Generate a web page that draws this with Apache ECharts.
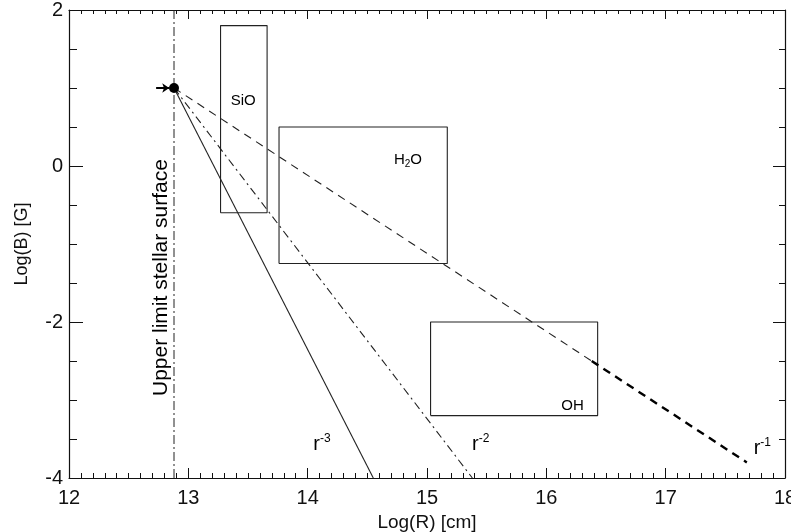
<!DOCTYPE html>
<html>
<head>
<meta charset="utf-8">
<script src="https://cdn.jsdelivr.net/npm/echarts@6/dist/echarts.min.js"></script>
<style>
  html, body { margin: 0; padding: 0; background: #fff; }
  #chart { width: 791px; height: 532px; }
</style>
</head>
<body>
<div id="chart"></div>
<script>
// Magnetic field strength versus distance from the star (log-log)
const starPoint = [12.88, 1.0];          // Log(R), Log(B) at the stellar surface limit
const surfaceX = 12.88;                  // upper limit of stellar surface
const arrowFrom = [12.73, 1.0];
const arrowTo = [12.84, 1.0];

// Power-law field profiles: start and end points
const lineR3 = [[12.88, 1.0], [14.55, -4.0]];
const lineR2 = [[12.88, 1.0], [15.38, -4.0]];
const lineR1a = [[12.88, 1.0], [16.38, -2.5]];
const lineR1b = [[16.38, -2.5], [17.68, -3.8]];

// Maser regions: [xMin, xMax, yMin, yMax]
const boxSiO = [13.27, 13.66, -0.6, 1.8];
const boxH2O = [13.76, 15.17, -1.25, 0.5];
const boxOH = [15.03, 16.43, -3.2, -2.0];

// Text labels placed in data coordinates
const regionLabels = [
  { name: 'SiO', pos: [13.46, 0.83] },
  { name: 'H2O', pos: [14.84, 0.08] },
  { name: 'OH', pos: [16.22, -3.08] }
];
const powerLabels = [
  { exp: '-3', pos: [14.12, -3.57] },
  { exp: '-2', pos: [15.45, -3.57] },
  { exp: '-1', pos: [17.81, -3.62] }
];
const surfaceLabel = { text: 'Upper limit stellar surface', pos: [12.77, -1.43] };

const xTicks = [12, 13, 14, 15, 16, 17, 18];
const yTicks = [-4, -2, 0, 2];

function boxPath(b) {
  return [[b[0], b[2]], [b[1], b[2]], [b[1], b[3]], [b[0], b[3]], [b[0], b[2]]];
}

const FONT = 'Liberation Sans';
const INK = '#000';

const chart = echarts.init(document.getElementById('chart'), null, { renderer: 'canvas' });

const lineBase = { type: 'line', symbol: 'none', silent: true, animation: false, z: 3 };

const plainText = {
  color: INK, fontFamily: FONT, textBorderWidth: 0, textShadowBlur: 0, opacity: 1
};

// invisible anchor points carrying text labels
function textSeries(data, label) {
  return {
    type: 'scatter', symbol: 'circle', symbolSize: 1, silent: true, z: 6,
    itemStyle: { color: '#fff', opacity: 1 },
    data: data,
    label: Object.assign({}, plainText, { show: true, position: 'inside' }, label),
    labelLayout: { hideOverlap: false }
  };
}

const option = {
  animation: false,
  backgroundColor: '#fff',
  grid: { left: 69, right: 6, top: 10, bottom: 54, containLabel: false, outerBoundsMode: 'none' },
  xAxis: [
    {
      type: 'value', min: xTicks[0], max: xTicks[xTicks.length - 1], interval: 1,
      position: 'bottom',
      name: 'Log(R) [cm]', nameLocation: 'middle', nameGap: 30,
      nameTextStyle: { fontFamily: FONT, fontSize: 19, color: '#111' },
      axisLine: { onZero: false, lineStyle: { color: '#111', width: 1.2 } },
      axisTick: { inside: true, length: 10, lineStyle: { color: '#111' } },
      minorTick: { show: true, splitNumber: 10, length: 5, lineStyle: { color: '#111' } },
      axisLabel: { fontFamily: FONT, fontSize: 20, color: '#111', margin: 10 },
      splitLine: { show: false }
    },
    {
      type: 'value', min: xTicks[0], max: xTicks[xTicks.length - 1], interval: 1,
      position: 'top',
      axisLine: { onZero: false, lineStyle: { color: '#111', width: 1.2 } },
      axisTick: { inside: true, length: 9, lineStyle: { color: '#111' } },
      minorTick: { show: true, splitNumber: 10, length: 4, lineStyle: { color: '#111' } },
      axisLabel: { show: false },
      splitLine: { show: false }
    }
  ],
  yAxis: [
    {
      type: 'value', min: yTicks[0], max: yTicks[yTicks.length - 1], interval: 2,
      position: 'left',
      name: 'Log(B) [G]', nameLocation: 'middle', nameGap: 38, nameRotate: 90,
      nameTextStyle: { fontFamily: FONT, fontSize: 18, color: '#111' },
      axisLine: { onZero: false, lineStyle: { color: '#111', width: 1.2 } },
      axisTick: { inside: true, length: 14, lineStyle: { color: '#111' } },
      minorTick: { show: true, splitNumber: 4, length: 8, lineStyle: { color: '#111' } },
      axisLabel: { fontFamily: FONT, fontSize: 20, color: '#111', margin: 6 },
      splitLine: { show: false }
    },
    {
      type: 'value', min: yTicks[0], max: yTicks[yTicks.length - 1], interval: 2,
      position: 'right',
      axisLine: { onZero: false, lineStyle: { color: '#111', width: 1.2 } },
      axisTick: { inside: true, length: 12, lineStyle: { color: '#111' } },
      minorTick: { show: true, splitNumber: 4, length: 6, lineStyle: { color: '#111' } },
      axisLabel: { show: false },
      splitLine: { show: false }
    }
  ],
  series: [
    // stellar surface limit
    Object.assign({}, lineBase, {
      data: [[surfaceX, yTicks[0]], [surfaceX, yTicks[yTicks.length - 1]]],
      lineStyle: { color: '#222', width: 1, type: [9, 3, 2, 3] }
    }),
    // maser region boxes
    Object.assign({}, lineBase, { data: boxPath(boxSiO), lineStyle: { color: '#222', width: 1.1 } }),
    Object.assign({}, lineBase, { data: boxPath(boxH2O), lineStyle: { color: '#222', width: 1.1 } }),
    Object.assign({}, lineBase, { data: boxPath(boxOH), lineStyle: { color: '#222', width: 1.1 } }),
    // r^-3
    Object.assign({}, lineBase, { data: lineR3, lineStyle: { color: '#222', width: 1.1 } }),
    // r^-2
    Object.assign({}, lineBase, { data: lineR2, lineStyle: { color: '#222', width: 1.1, type: [8, 4, 2, 4] } }),
    // r^-1 (thin then bold dashes)
    Object.assign({}, lineBase, { data: lineR1a, lineStyle: { color: '#222', width: 1.1, type: [8, 6] } }),
    Object.assign({}, lineBase, { data: lineR1b, lineStyle: { color: '#000', width: 2.4, type: [8, 6] } }),
    // star point with arrow
    {
      type: 'scatter', data: [starPoint], symbol: 'circle', symbolSize: 10,
      itemStyle: { color: '#000', opacity: 1 }, silent: true, z: 5,
      markLine: {
        silent: true, animation: false,
        symbol: ['none', 'arrow'], symbolSize: [7, 7],
        label: { show: false },
        lineStyle: { color: '#000', width: 2, type: 'solid', opacity: 1 },
        data: [[{ coord: arrowFrom }, { coord: arrowTo }]]
      }
    },
    // region names
    textSeries(regionLabels.map(d => ({ value: d.pos, name: d.name })), {
      fontSize: 15,
      formatter: p => p.name === 'H2O' ? '{t|H}{s|2}{t|O}' : '{t|' + p.name + '}',
      rich: {
        t: { fontFamily: FONT, fontSize: 15, color: INK },
        s: { fontFamily: FONT, fontSize: 10, color: INK, verticalAlign: 'bottom', padding: [8, 0, 0, 0] }
      }
    }),
    // power-law labels
    textSeries(powerLabels.map(d => ({ value: d.pos, name: d.exp })), {
      formatter: p => '{r|r}{e|' + p.name + '}',
      rich: {
        r: { fontFamily: FONT, fontSize: 20, color: INK },
        e: { fontFamily: FONT, fontSize: 12, color: INK, verticalAlign: 'top', padding: [0, 0, 12, 0] }
      }
    }),
    // surface label
    textSeries([{ value: surfaceLabel.pos, name: surfaceLabel.text }], {
      rotate: 90, fontSize: 21, formatter: p => p.name
    })
  ]
};

chart.setOption(option);
</script>
</body>
</html>
